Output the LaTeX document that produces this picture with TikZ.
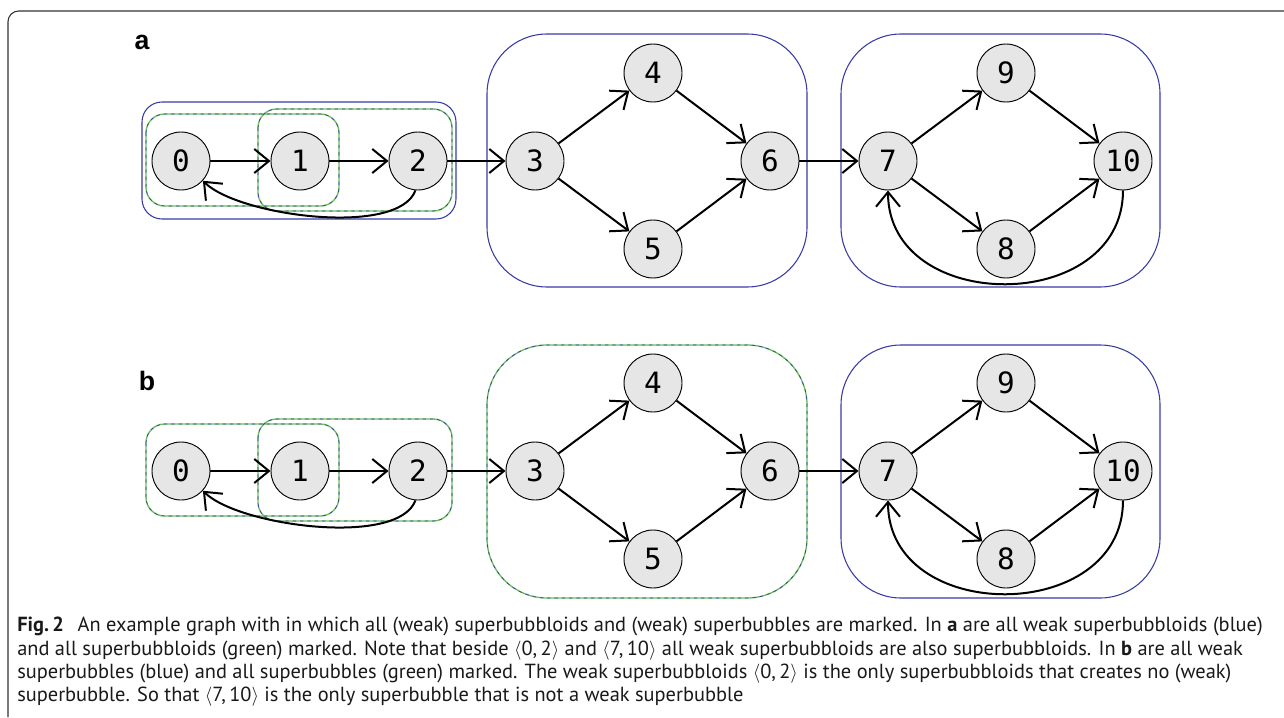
\documentclass[tikz,border=0pt]{standalone}
\usepackage{fontspec}
\setmainfont{PT Sans}
\newfontfamily\digitfont{DejaVu Sans Mono}
\newfontfamily\labelfont{Liberation Sans}
\usetikzlibrary{arrows.meta}
\definecolor{wblue}{RGB}{55,60,165}
\definecolor{sgreen}{RGB}{105,190,90}
\definecolor{vfill}{RGB}{230,230,230}
\tikzset{
  vertex/.style={circle, draw=black, line width=0.7pt, fill=vfill,
    minimum size=43.5pt, inner sep=0pt, font=\digitfont\fontsize{22}{22}\selectfont},
  edge/.style={line width=1.5pt, -{Straight Barb[length=11pt,width=18pt,line width=1.5pt]}},
  weakbox/.style={draw=wblue, line width=0.8pt},
  strongbox/.style={draw=sgreen, line width=1pt},
  bothdash/.style={draw=wblue, line width=0.5pt, dash pattern=on 2.5pt off 3pt},
  panel/.style={font=\labelfont\bfseries\fontsize{20}{20}\selectfont},
}
\newcommand{\bothrect}[3]{%
  \draw[strongbox, rounded corners=#3] #1 rectangle #2;
  \draw[bothdash, rounded corners=#3] #1 rectangle #2;}
\begin{document}
\begin{tikzpicture}[x=0.75pt,y=-0.75pt]
\useasboundingbox (0,0) rectangle (1284,717);
% page frame
\draw[line width=0.8pt, black!80, rounded corners=8pt] (8,717) -- (8,11) -- (1290,11);

% ---------- panel a ----------
\node[panel] (la) at (142,42) {a};
\draw[weakbox, rounded corners=15pt] (142,102) rectangle (456,219);
\bothrect{(146,114)}{(339,206)}{14pt}
\bothrect{(258,109)}{(452,211)}{14pt}
\draw[weakbox, rounded corners=45pt] (487,34) rectangle (807,287);
\draw[weakbox, rounded corners=45pt] (841,34) rectangle (1160,287);

\node[vertex] (a0) at (181,161) {0};
\node[vertex] (a1) at (300,161) {1};
\node[vertex] (a2) at (418,161) {2};
\node[vertex] (a3) at (535,161) {3};
\node[vertex] (a4) at (653,73) {4};
\node[vertex] (a5) at (653,249) {5};
\node[vertex] (a6) at (770,161) {6};
\node[vertex] (a7) at (888,161) {7};
\node[vertex] (a9) at (1006,73) {9};
\node[vertex] (a8) at (1006,249) {8};
\node[vertex] (a10) at (1123,161) {10};

\draw[edge] (a0) -- (a1);
\draw[edge] (a1) -- (a2);
\draw[edge] (a2) -- (a3);
\draw[edge] (a3) -- (a4);
\draw[edge] (a3) -- (a5);
\draw[edge] (a4) -- (a6);
\draw[edge] (a5) -- (a6);
\draw[edge] (a6) -- (a7);
\draw[edge] (a7) -- (a9);
\draw[edge] (a7) -- (a8);
\draw[edge] (a9) -- (a10);
\draw[edge] (a8) -- (a10);
\draw[edge] (a2.-95) to[out=-110,in=-45,looseness=0.6] (a0.-42);
\draw[edge] (a10.-90) to[out=-90,in=-90,looseness=1.36] (a7.-90);

% ---------- panel b ----------
\node[panel] (lb) at (147,381) {b};
\bothrect{(146,424)}{(339,516)}{14pt}
\bothrect{(258,419)}{(452,521)}{14pt}
\bothrect{(487,345)}{(807,598)}{45pt}
\draw[weakbox, rounded corners=45pt] (841,345) rectangle (1160,598);

\node[vertex] (b0) at (181,471) {0};
\node[vertex] (b1) at (300,471) {1};
\node[vertex] (b2) at (418,471) {2};
\node[vertex] (b3) at (535,471) {3};
\node[vertex] (b4) at (653,383) {4};
\node[vertex] (b5) at (653,559) {5};
\node[vertex] (b6) at (770,471) {6};
\node[vertex] (b7) at (888,471) {7};
\node[vertex] (b9) at (1006,383) {9};
\node[vertex] (b8) at (1006,559) {8};
\node[vertex] (b10) at (1123,471) {10};

\draw[edge] (b0) -- (b1);
\draw[edge] (b1) -- (b2);
\draw[edge] (b2) -- (b3);
\draw[edge] (b3) -- (b4);
\draw[edge] (b3) -- (b5);
\draw[edge] (b4) -- (b6);
\draw[edge] (b5) -- (b6);
\draw[edge] (b6) -- (b7);
\draw[edge] (b7) -- (b9);
\draw[edge] (b7) -- (b8);
\draw[edge] (b9) -- (b10);
\draw[edge] (b8) -- (b10);
\draw[edge] (b2.-95) to[out=-110,in=-45,looseness=0.6] (b0.-42);
\draw[edge] (b10.-90) to[out=-90,in=-90,looseness=1.36] (b7.-90);

% ---------- caption ----------
\node[anchor=north west, align=left, inner sep=0pt, text=black!90,
      font=\fontsize{15.3}{17.4}\selectfont] (cap) at (17,617) {%
\textbf{Fig.\,2}\hspace{0.4em} An example graph with in which all (weak) superbubbloids and (weak) superbubbles are marked. In \textbf{a} are all weak superbubbloids (blue)\\
and all superbubbloids (green) marked. Note that beside $\langle$0,\,2$\rangle$ and $\langle$7,\,10$\rangle$ all weak superbubbloids are also superbubbloids. In \textbf{b} are all weak\\
superbubbles (blue) and all superbubbles (green) marked. The weak superbubbloids $\langle$0,\,2$\rangle$ is the only superbubbloids that creates no (weak)\\
superbubble. So that $\langle$7,\,10$\rangle$ is the only superbubble that is not a weak superbubble};
\end{tikzpicture}
\end{document}
